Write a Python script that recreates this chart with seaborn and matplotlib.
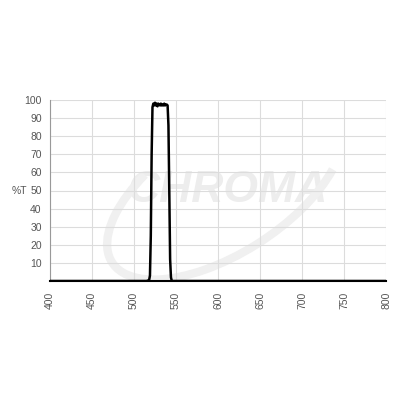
import matplotlib
matplotlib.use("Agg")
import matplotlib.pyplot as plt
from matplotlib.patches import Arc
import pandas as pd
import seaborn as sns

# transmission curve (wavelength nm, %T)
wavelength = [400, 515, 518, 519, 520, 521, 522, 523, 524, 525, 526, 527, 528, 529,
              530, 531, 532, 533, 534, 535, 536, 537, 538, 539, 540, 541, 542, 543,
              544, 545, 548, 800]
transmission = [0, 0, 0.5, 3, 25, 70, 96, 98, 97, 98.5, 97, 98, 96.5, 98,
                97.5, 97, 98, 97, 97.5, 97, 98, 97, 97.5, 97.5, 97, 86, 50, 12,
                2, 0, 0, 0]
x_ticks = [400, 450, 500, 550, 600, 650, 700, 750, 800]
y_ticks = [10, 20, 30, 40, 50, 60, 70, 80, 90, 100]

df = pd.DataFrame({"nm": wavelength, "T": transmission})

sns.set_style("white")
plt.rcParams["font.family"] = ["Liberation Sans", "DejaVu Sans"]

fig = plt.figure(figsize=(4, 4), dpi=100)
ax = fig.add_axes([0.125, 0.2975, 0.84, 0.4525])

# faint watermark
ax.text(0.53, 0.5, "CHROMA", transform=ax.transAxes, ha="center", va="center",
        fontsize=32, fontweight="bold", fontstyle="italic", color="#ededed", zorder=0)
ax.add_patch(Arc((0.52, 0.5), 0.5, 1.1, angle=-30, theta1=190, theta2=410,
                 transform=ax.transAxes, color="#f0f0f0", lw=6, zorder=0))

sns.lineplot(data=df, x="nm", y="T", ax=ax, color="black", linewidth=1.8, zorder=3)

ax.set_xlim(400, 800)
ax.set_ylim(0, 100)
ax.set_xticks(x_ticks)
ax.set_yticks(y_ticks)
ax.grid(True, color="#dcdcdc", linewidth=0.8)
ax.set_axisbelow(True)

ax.tick_params(axis="x", labelsize=7.5, labelcolor="#555555", rotation=90, length=0, pad=8)
ax.tick_params(axis="y", labelsize=7.5, labelcolor="#555555", length=4, direction="inout",
               color="#888888", pad=4)
for side in ["top", "right"]:
    ax.spines[side].set_visible(False)
ax.spines["left"].set_color("#999999")
ax.spines["left"].set_linewidth(0.8)
ax.spines["bottom"].set_color("black")
ax.spines["bottom"].set_linewidth(1.5)

ax.set_xlabel("")
ax.set_ylabel("%T", rotation=0, fontsize=7.5, color="#555555", va="center", ha="center")
ax.yaxis.set_label_coords(-0.092, 0.5)

fig.savefig("out.png", dpi=100, facecolor="white")
